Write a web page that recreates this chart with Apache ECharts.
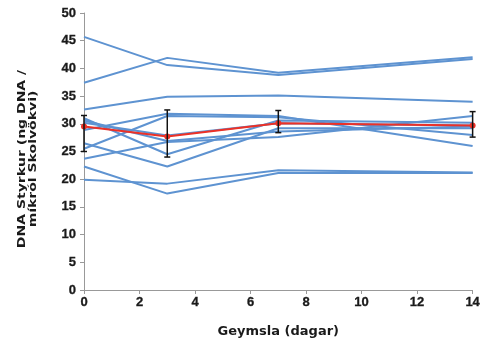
<!DOCTYPE html>
<html>
<head>
<meta charset="utf-8">
<script src="https://cdn.jsdelivr.net/npm/echarts@6/dist/echarts.min.js"></script>
<style>
  html, body { margin: 0; padding: 0; background: #fff; }
  #chart { width: 483px; height: 343px; }
</style>
</head>
<body>
<div id="chart"></div>
<script>
// Storage days where samples were measured
const days = [0, 3, 7, 14];

// Individual samples (ng DNA / µl)
const samples = [
    [45.7, 40.6, 38.8, 41.7],
    [37.4, 41.9, 39.2, 42.0],
    [32.6, 34.9, 35.1, 34.0],
    [22.3, 17.4, 21.1, 21.1],
    [19.9, 19.2, 21.6, 21.2],
    [28.9, 31.8, 31.4, 26.0],
    [25.5, 31.4, 31.2, 28.0],
    [31.0, 24.5, 30.6, 30.2],
    [30.2, 27.9, 30.1, 29.7],
    [30.6, 26.9, 28.6, 29.5],
    [23.7, 26.7, 27.6, 31.4],
    [26.5, 22.3, 29.2, 29.2]
];

// Mean line and error bar limits
const meanValues = [29.5, 27.7, 30.1, 29.7];
const errLow = [25.0, 24.0, 28.4, 27.6];
const errHigh = [31.5, 32.5, 32.4, 32.2];

const yTicks = [0, 5, 10, 15, 20, 25, 30, 35, 40, 45, 50];
const xTitle = 'Geymsla (dagar)';
const yTitle = 'DNA Styrkur (ng DNA /\nmíkról Skolvökvi)';

const chart = echarts.init(document.getElementById('chart'));

const labelFont = {
    fontFamily: 'Arial', fontWeight: 'bold', fontSize: 13, color: '#1a1a1a',
    textBorderColor: '#1a1a1a', textBorderWidth: 0.3
};

const blueSeries = samples.map((vals, i) => ({
    name: 'sample' + (i + 1),
    type: 'line',
    data: days.map((d, j) => [d, vals[j]]),
    symbol: 'none',
    lineStyle: { color: '#5E93D1', width: 2 },
    silent: true,
    z: 2
}));

const errorData = days.map((d, j) => [d, errLow[j], errHigh[j]]);

const option = {
    animation: false,
    grid: { left: 84, right: 7, top: 13, bottom: 53 },
    // y title is a bit stretched along its length in the original
    graphic: [{
        type: 'text',
        x: 28,
        y: 159,
        rotation: Math.PI / 2,
        scaleX: 1.4,
        style: {
            text: yTitle,
            font: 'bold 10px "DejaVu Sans"',
            fill: '#1a1a1a',
            align: 'center',
            verticalAlign: 'middle',
            lineHeight: 11
        }
    }],
    xAxis: {
        type: 'value',
        min: 0,
        max: 14,
        interval: 2,
        name: xTitle,
        nameLocation: 'middle',
        nameGap: 35,
        nameTextStyle: { fontFamily: 'DejaVu Sans', fontWeight: 'bold', fontSize: 13, color: '#1a1a1a' },
        axisLine: { lineStyle: { color: '#999', width: 1 } },
        axisTick: { show: true, length: 4, lineStyle: { color: '#999' } },
        axisLabel: Object.assign({ margin: 6 }, labelFont),
        splitLine: { show: false }
    },
    yAxis: {
        type: 'value',
        min: yTicks[0],
        max: yTicks[yTicks.length - 1],
        interval: 5,
        axisLine: { show: true, lineStyle: { color: '#999', width: 1 } },
        axisTick: { show: true, length: 4, lineStyle: { color: '#999' } },
        axisLabel: Object.assign({ margin: 8 }, labelFont),
        splitLine: { show: false }
    },
    series: [
        ...blueSeries,
        {
            name: 'mean',
            type: 'line',
            data: days.map((d, j) => [d, meanValues[j]]),
            symbol: 'circle',
            symbolSize: 6,
            itemStyle: { color: '#EC3127' },
            lineStyle: { color: '#EC3127', width: 2 },
            z: 4
        },
        {
            name: 'error',
            type: 'custom',
            data: errorData,
            z: 5,
            renderItem: function (params, api) {
                const x = api.value(0);
                const lo = api.coord([x, api.value(1)]);
                const hi = api.coord([x, api.value(2)]);
                const cap = 3;
                const style = { stroke: '#111', lineWidth: 1.5 };
                return {
                    type: 'group',
                    children: [
                        { type: 'line', shape: { x1: lo[0], y1: lo[1], x2: hi[0], y2: hi[1] }, style: style },
                        { type: 'line', shape: { x1: lo[0] - cap, y1: lo[1], x2: lo[0] + cap, y2: lo[1] }, style: style },
                        { type: 'line', shape: { x1: hi[0] - cap, y1: hi[1], x2: hi[0] + cap, y2: hi[1] }, style: style }
                    ]
                };
            }
        }
    ]
};

chart.setOption(option);
</script>
</body>
</html>
